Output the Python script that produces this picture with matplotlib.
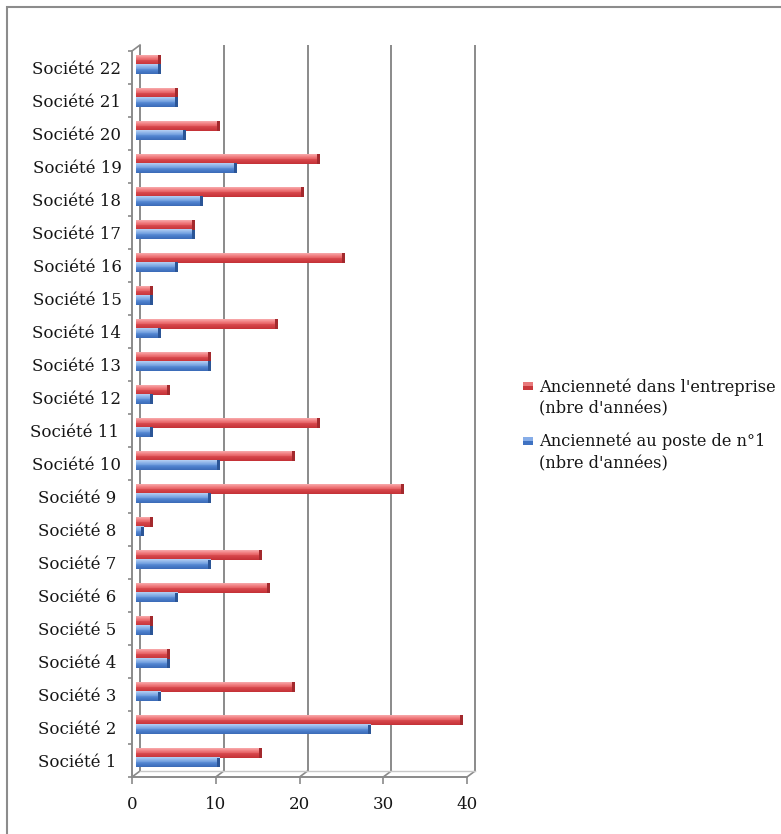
import numpy as np
import matplotlib
matplotlib.use("Agg")
import matplotlib.pyplot as plt
from matplotlib.colors import LinearSegmentedColormap
from matplotlib.patches import Rectangle

# Ancienneté des dirigeants, par société
societes = ["Société %d" % i for i in range(1, 23)]
societes[10] = "Société 11 "
anc_entreprise = [15, 39, 19, 4, 2, 16, 15, 2, 32, 19, 22, 4, 9, 17, 2, 25, 7, 20, 22, 10, 5, 3]
anc_poste = [10, 28, 3, 4, 2, 5, 9, 1, 9, 10, 2, 2, 9, 3, 2, 5, 7, 8, 12, 6, 5, 3]
lbl_entreprise = "Ancienneté dans l'entreprise\n(nbre d'années)"
lbl_poste = "Ancienneté au poste de n°1\n(nbre d'années)"
xticks = [0, 10, 20, 30, 40]

W, H = 781, 834
fig = plt.figure(figsize=(W / 100, H / 100), dpi=100)
plt.rcParams["font.family"] = ["DejaVu Serif"]
fs = 12
txt_col = "#161616"
grid_col = "#8a8a8a"

# front plane of the plot area, in pixels
x0, x1, ytop, ybot = 132, 467, 51, 777
ax = fig.add_axes([x0 / W, 1 - ybot / H, (x1 - x0) / W, (ybot - ytop) / H])
ax.set_xlim(0, 40)
ax.set_ylim(-0.5, 21.5)
for s in ax.spines.values():
    s.set_visible(False)
ax.patch.set_alpha(0)

# depth of the pseudo 3D box, in data units
dx = 8 * 40 / (x1 - x0)
dy = 6 * 22 / (ybot - ytop)

# back wall and floor
ax.vlines(np.array(xticks) + dx, -0.5 + dy, 21.5 + dy, color=grid_col, lw=1.4, clip_on=False, zorder=1)
for xv in xticks:
    ax.plot([xv, xv + dx], [-0.5, -0.5 + dy], color=grid_col, lw=1.2, clip_on=False, zorder=1)
ax.plot([dx, 40 + dx], [-0.5 + dy, -0.5 + dy], color="#c8c8c8", lw=1, clip_on=False, zorder=1)
ax.plot([0, dx], [21.5, 21.5 + dy], color=grid_col, lw=1.2, clip_on=False, zorder=1)
# front axes lines
ax.plot([0, 0], [-0.5, 21.5], color=grid_col, lw=1.4, clip_on=False, zorder=5)
ax.plot([0, 40], [-0.5, -0.5], color=grid_col, lw=1.4, clip_on=False, zorder=5)

# bars: horizontal stripes give the shaded cylinder look
ypos = np.arange(len(societes)) + dy / 2
bh = 0.3
nstrip = 12
red_cm = LinearSegmentedColormap.from_list("r", ["#f9b4b5", "#ef7779", "#d6454a", "#c53338"])
blue_cm = LinearSegmentedColormap.from_list("b", ["#aecbf2", "#76a3e1", "#4a7dcb", "#3867b3"])
series = [(anc_entreprise, red_cm, "#a3292d", +bh / 2),
          (anc_poste, blue_cm, "#2b5596", -bh / 2)]
for vals, cm, dark, off in series:
    vals = np.array(vals, dtype=float)
    for k in range(nstrip):
        frac = k / (nstrip - 1)
        yk = ypos + off + bh / 2 - (k + 0.5) * bh / nstrip
        ax.barh(yk, vals, height=bh / nstrip * 1.05, left=dx / 2, color=cm(frac), lw=0, zorder=3)
    cap = np.minimum(0.35, vals)
    ax.barh(ypos + off, cap, height=bh, left=dx / 2 + vals - cap, color=dark, lw=0, zorder=4)

# ticks
ax.set_xticks(xticks)
ax.set_xticklabels([str(v) for v in xticks], fontsize=fs, color=txt_col)
ax.tick_params(axis="x", length=5, width=1.2, color=grid_col, pad=9)
ax.set_yticks(np.arange(-0.5, 22, 1))
ax.set_yticklabels([])
ax.tick_params(axis="y", which="major", length=3, width=1.2, color=grid_col)
ax.set_yticks(np.arange(len(societes)), minor=True)
ax.set_yticklabels(societes, minor=True, fontsize=fs, color=txt_col, ha="center")
ax.tick_params(axis="y", which="minor", length=0, pad=39.6)

# legend
leg = [(lbl_entreprise, "#e8797b", "#c8383c", 386),
       (lbl_poste, "#86ade8", "#3f72c2", 441)]
for lbl, top_c, bot_c, yc in leg:
    fig.add_artist(Rectangle((523 / W, 1 - (yc + 4) / H), 10 / W, 4 / H, color=bot_c, lw=0))
    fig.add_artist(Rectangle((523 / W, 1 - yc / H), 10 / W, 4 / H, color=top_c, lw=0))
    fig.text(539 / W, 1 - (yc - 8) / H, lbl, fontsize=11.7, color=txt_col, va="top", linespacing=1.35)

# outer frame
fig.add_artist(Rectangle((7 / W, -0.1), 1.2, 1 - 7 / H + 0.1, fill=False, ec="#8c8c8c", lw=1.5))

fig.savefig("out.png", dpi=100)
